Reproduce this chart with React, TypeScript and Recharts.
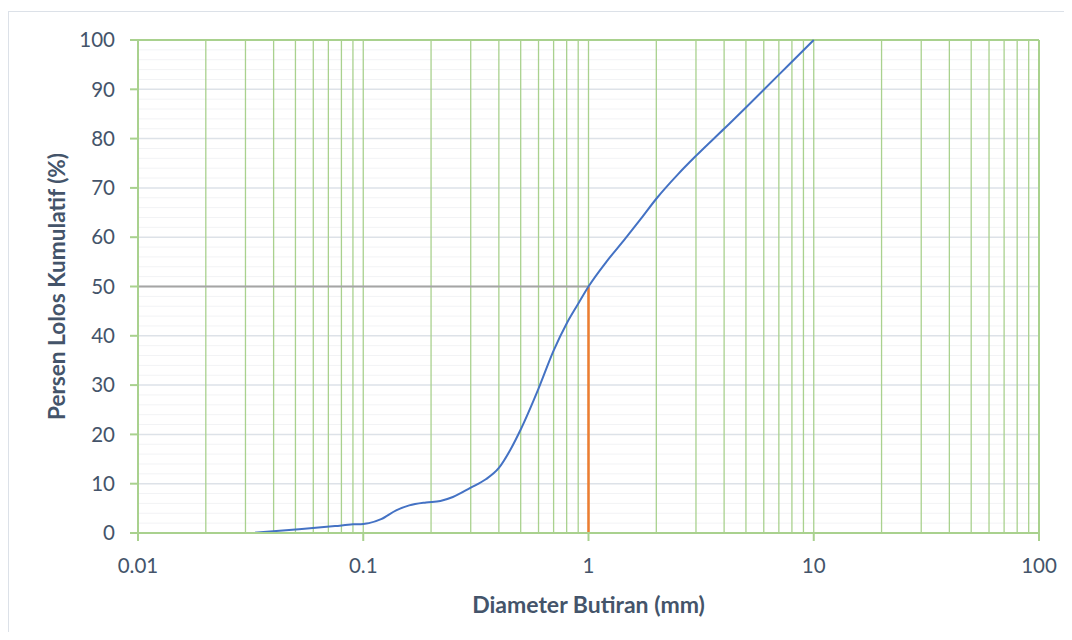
import React from "react";
import {
  ComposedChart,
  Line,
  XAxis,
  YAxis,
  ReferenceLine,
} from "recharts";

// Blue gradation curve: diameter (mm) vs cumulative passing (%)
const diameters = [
  0.0322, 0.05, 0.075, 0.09, 0.1, 0.106, 0.12, 0.14, 0.16, 0.19, 0.22, 0.25,
  0.3, 0.35, 0.4, 0.45, 0.5, 0.6, 0.7, 0.8, 0.9, 1, 1.2, 1.45, 1.7, 2, 2.5, 3,
  4, 5, 6, 8, 10,
];
const passing = [
  0, 0.7, 1.4, 1.75, 1.85, 2.0, 2.8, 4.6, 5.6, 6.2, 6.5, 7.3, 9.2, 10.9, 13.2,
  16.9, 21, 29.3, 37, 42.5, 46.5, 50, 55, 59.6, 63.6, 67.8, 72.8, 76.5, 82,
  86.3, 89.9, 95.6, 100,
];

// D50 helper lines
const d50HorizX = [0.01, 1];
const d50HorizY = [50, 50];
const d50VertX = [1, 1];
const d50VertY = [0, 50];

// Axis ticks
const xTicks = [0.01, 0.1, 1, 10, 100];
const xTickLabels = ["0.01", "0.1", "1", "10", "100"];
const yTicks = [0, 10, 20, 30, 40, 50, 60, 70, 80, 90, 100];
const yMinor = [
  2, 4, 6, 8, 12, 14, 16, 18, 22, 24, 26, 28, 32, 34, 36, 38, 42, 44, 46, 48,
  52, 54, 56, 58, 62, 64, 66, 68, 72, 74, 76, 78, 82, 84, 86, 88, 92, 94, 96,
  98,
];
const yMajorGrid = [10, 20, 30, 40, 50, 60, 70, 80, 90];
const xGrid = [
  0.02, 0.03, 0.04, 0.05, 0.06, 0.07, 0.08, 0.09, 0.1, 0.2, 0.3, 0.4, 0.5, 0.6,
  0.7, 0.8, 0.9, 1, 2, 3, 4, 5, 6, 7, 8, 9, 10, 20, 30, 40, 50, 60, 70, 80, 90,
];

const curveData = diameters.map((d, i) => ({ x: d, y: passing[i] }));
const horizData = d50HorizX.map((d, i) => ({ x: d, y: d50HorizY[i] }));
const vertData = d50VertX.map((d, i) => ({ x: d, y: d50VertY[i] }));

const GREEN = "#A9D18E";
const TEXT = "#44546A";
const FONT = "Lato, 'Open Sans', sans-serif";

export default function App() {
  return (
    <div style={{ position: "relative", width: 1056, height: 624 }}>
      <div
        style={{
          position: "absolute",
          left: 0,
          top: 3,
          width: 1056,
          height: 621,
          borderLeft: "1.5px solid #DCE1E8",
          borderTop: "1.5px solid #DCE1E8",
          boxSizing: "border-box",
        }}
      />
      <div style={{ position: "absolute", left: 0, top: 0 }}>
        <ComposedChart
          width={1056}
          height={624}
          margin={{ top: 32, right: 25, bottom: 19, left: 30 }}
          style={{ fontFamily: FONT }}
        >
          <XAxis
            type="number"
            dataKey="x"
            scale="log"
            domain={[0.01, 100]}
            allowDataOverflow
            ticks={xTicks}
            tickFormatter={(v: number) => xTickLabels[xTicks.indexOf(v)] ?? String(v)}
            height={80}
            tickSize={8}
            tickMargin={17}
            axisLine={{ stroke: GREEN, strokeWidth: 2 }}
            tickLine={{ stroke: GREEN, strokeWidth: 2 }}
            tick={{ fill: TEXT, fontSize: 20.5, fontFamily: FONT }}
            label={{
              value: "Diameter Butiran (mm)",
              position: "insideBottom",
              offset: 0,
              style: {
                fill: TEXT,
                fontSize: 23,
                fontWeight: 700,
                fontFamily: FONT,
              },
            }}
          />
          <YAxis
            type="number"
            dataKey="y"
            domain={[0, 100]}
            ticks={yTicks}
            width={100}
            tickSize={8}
            tickMargin={15}
            axisLine={{ stroke: GREEN, strokeWidth: 2 }}
            tickLine={{ stroke: GREEN, strokeWidth: 2 }}
            tick={{ fill: TEXT, fontSize: 20.5, fontFamily: FONT }}
            label={{
              value: "Persen Lolos Kumulatif (%)",
              angle: -90,
              position: "insideLeft",
              offset: 19,
              style: {
                fill: TEXT,
                fontSize: 22.6,
                fontWeight: 700,
                fontFamily: FONT,
                textAnchor: "middle",
              },
            }}
          />
          {yMinor.map((v) => (
            <ReferenceLine key={"ym" + v} y={v} stroke="#F2F3F5" strokeWidth={1} />
          ))}
          {yMajorGrid.map((v) => (
            <ReferenceLine key={"yM" + v} y={v} stroke="#DDE2E8" strokeWidth={1.5} />
          ))}
          {xGrid.map((v) => (
            <ReferenceLine key={"x" + v} x={v} stroke={GREEN} strokeWidth={1.3} />
          ))}
          <ReferenceLine y={100} stroke={GREEN} strokeWidth={2} />
          <ReferenceLine x={100} stroke={GREEN} strokeWidth={2} />
          <Line
            data={horizData}
            dataKey="y"
            type="linear"
            stroke="#A5A5A5"
            strokeWidth={2}
            dot={false}
            isAnimationActive={false}
          />
          <Line
            data={vertData}
            dataKey="y"
            type="linear"
            stroke="#ED7D31"
            strokeWidth={2.5}
            dot={false}
            isAnimationActive={false}
          />
          <Line
            data={curveData}
            dataKey="y"
            type="monotone"
            stroke="#4472C4"
            strokeWidth={2}
            dot={false}
            isAnimationActive={false}
          />
        </ComposedChart>
      </div>
    </div>
  );
}
